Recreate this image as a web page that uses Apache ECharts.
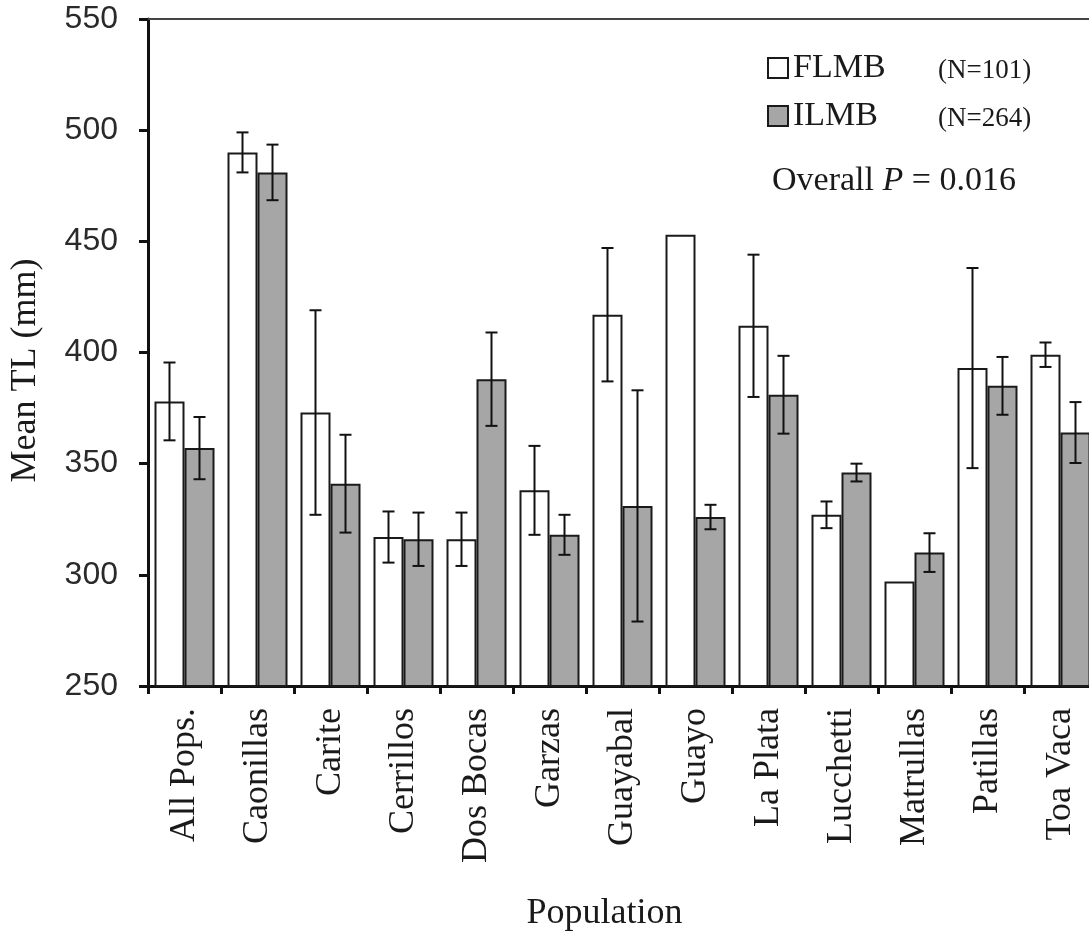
<!DOCTYPE html>
<html>
<head>
<meta charset="utf-8">
<script src="https://cdn.jsdelivr.net/npm/echarts@6/dist/echarts.min.js"></script>
<style>
html,body{margin:0;padding:0;background:#fff;overflow:hidden;}
#chart{width:1100px;height:938px;}
</style>
</head>
<body>
<div id="chart"></div>
<script>
const categories = ['All Pops.', 'Caonillas', 'Carite', 'Cerrillos', 'Dos Bocas', 'Garzas', 'Guayabal', 'Guayo', 'La Plata', 'Lucchetti', 'Matrullas', 'Patillas', 'Toa Vaca'];
const flmbMean = [378, 490, 373, 317, 316, 338, 417, 453, 412, 327, 297, 393, 399];
const flmbErr  = [17.5, 9, 46, 11.5, 12, 20, 30, null, 32, 6, null, 45, 5.5];
const ilmbMean = [357, 481, 341, 316, 388, 318, 331, 326, 381, 346, 310, 385, 364];
const ilmbErr  = [14, 12.5, 22, 12, 21, 9, 52, 5.5, 17.5, 4, 8.7, 13, 13.7];
const seriesNames = ['FLMB', 'ILMB'];
const seriesN = [101, 264];
const yTicks = [250, 300, 350, 400, 450, 500, 550];
const overallP = '0.016';

const BAR_W = 30;
const serif = '"Liberation Serif", "Times New Roman", serif';

function errData(mean, err) {
  return mean.map((m, i) => err[i] == null ? null : [i, m - err[i], m + err[i]]).filter(d => d);
}

function errSeries(mean, err, offset) {
  return {
    type: 'custom',
    xAxisIndex: 0, yAxisIndex: 0,
    silent: true,
    z: 10,
    data: errData(mean, err),
    renderItem: function (params, api) {
      const lo = api.coord([api.value(0), api.value(1)]);
      const hi = api.coord([api.value(0), api.value(2)]);
      const x = lo[0] + offset;
      const cap = 6;
      const style = { stroke: '#111', lineWidth: 2 };
      return {
        type: 'group',
        children: [
          { type: 'line', shape: { x1: x, y1: lo[1], x2: x, y2: hi[1] }, style: style },
          { type: 'line', shape: { x1: x - cap, y1: hi[1], x2: x + cap, y2: hi[1] }, style: style },
          { type: 'line', shape: { x1: x - cap, y1: lo[1], x2: x + cap, y2: lo[1] }, style: style }
        ]
      };
    }
  };
}

const chart = echarts.init(document.getElementById('chart'), null, { renderer: 'canvas' });
chart.setOption({
  animation: false,
  backgroundColor: '#fff',
  grid: { left: 147, top: 19, width: 950, bottom: 252, containLabel: false },
  legend: {
    orient: 'vertical',
    left: 762,
    top: 46,
    itemWidth: 20,
    itemHeight: 20,
    itemGap: 14,
    icon: 'rect',
    selectedMode: false,
    data: seriesNames,
    formatter: function (name) {
      const i = seriesNames.indexOf(name);
      return '{n|' + name + '}{c|(N=' + seriesN[i] + ')}';
    },
    textStyle: {
      rich: {
        n: { fontFamily: serif, fontSize: 34, color: '#1a1a1a', width: 145, lineHeight: 40 },
        c: { fontFamily: serif, fontSize: 27, color: '#1a1a1a', lineHeight: 40, padding: [6, 0, 0, 0] }
      }
    }
  },
  graphic: [{
    type: 'text',
    left: 772,
    top: 164,
    style: {
      text: 'Overall {i|P} = ' + overallP,
      font: '34px ' + serif,
      fill: '#1a1a1a',
      rich: {
        i: { fontFamily: serif, fontSize: 34, fontStyle: 'italic', fill: '#1a1a1a' }
      }
    }
  }],
  xAxis: [{
    type: 'category',
    data: categories,
    position: 'bottom',
    name: 'Population',
    nameLocation: 'middle',
    nameGap: 210,
    nameTextStyle: { fontFamily: serif, fontSize: 36, color: '#1a1a1a', padding: [0, 36, 0, 0] },
    axisLine: { lineStyle: { color: '#111', width: 3 } },
    axisTick: { show: true, alignWithLabel: false, length: 8, lineStyle: { color: '#111', width: 3 } },
    axisLabel: { rotate: 90, margin: 22, fontFamily: serif, fontSize: 36, color: '#1a1a1a', interval: 0 },
    splitLine: { show: false }
  }, {
    type: 'category',
    data: categories,
    position: 'top',
    axisLine: { lineStyle: { color: '#444', width: 2 } },
    axisTick: { show: false },
    axisLabel: { show: false }
  }],
  yAxis: {
    type: 'value',
    min: yTicks[0],
    max: yTicks[yTicks.length - 1],
    interval: 50,
    name: 'Mean TL (mm)',
    nameLocation: 'middle',
    nameGap: 104,
    nameTextStyle: { fontFamily: serif, fontSize: 36, color: '#1a1a1a', padding: [0, 36, 0, 0] },
    axisLine: { show: true, lineStyle: { color: '#111', width: 3 } },
    axisTick: { show: true, inside: false, length: 9, lineStyle: { color: '#111', width: 3 } },
    axisLabel: { margin: 30, fontFamily: '"Liberation Sans", Arial, sans-serif', fontSize: 32, color: '#2a2a2a' },
    splitLine: { show: false }
  },
  series: [{
    name: seriesNames[0],
    type: 'bar',
    data: flmbMean,
    barWidth: BAR_W,
    barGap: '0%',
    itemStyle: { color: '#ffffff', borderColor: '#1a1a1a', borderWidth: 2 }
  }, {
    name: seriesNames[1],
    type: 'bar',
    data: ilmbMean,
    barWidth: BAR_W,
    barGap: '0%',
    itemStyle: { color: '#a6a6a6', borderColor: '#1a1a1a', borderWidth: 2 }
  },
  errSeries(flmbMean, flmbErr, -BAR_W / 2),
  errSeries(ilmbMean, ilmbErr, BAR_W / 2)
  ]
});
</script>
</body>
</html>
